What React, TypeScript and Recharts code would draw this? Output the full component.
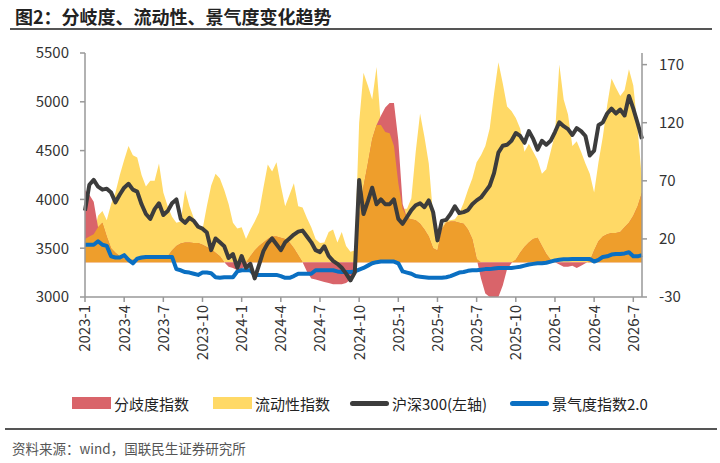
import React from 'react';
import {
  ComposedChart,
  Area,
  Line,
  XAxis,
  YAxis,
} from 'recharts';

// ten-day points from 2023-01-01 to 2026-07-21
const dates: string[] = [];
for (let y = 2023; y <= 2026; y++) {
  for (let m = 1; m <= 12; m++) {
    for (const d of [1, 11, 21]) {
      if (dates.length < 129) dates.push(`${y}-${String(m).padStart(2, '0')}-${String(d).padStart(2, '0')}`);
    }
  }
}

const xTicks = [
  '2023-01-01', '2023-04-01', '2023-07-01', '2023-10-01',
  '2024-01-01', '2024-04-01', '2024-07-01', '2024-10-01',
  '2025-01-01', '2025-04-01', '2025-07-01', '2025-10-01',
  '2026-01-01', '2026-04-01', '2026-07-01',
];
const leftTicks = [3000, 3500, 4000, 4500, 5000, 5500];
const rightTicks = [-30, 20, 70, 120, 170];

// 沪深300 (left axis)
const hs300 = [
  3885, 4150, 4200, 4130, 4100, 4110, 4070, 3970, 4050, 4120,
  4160, 4100, 4080, 3950, 3850, 3800, 3900, 3960, 3840, 3880,
  3960, 4000, 3800, 3760, 3810, 3780, 3720, 3700, 3660, 3480,
  3600, 3560, 3520, 3400, 3440, 3300, 3420, 3300, 3340, 3190,
  3330, 3470, 3550, 3600, 3540, 3480, 3560, 3600, 3640, 3670,
  3680, 3620, 3560, 3480, 3460, 3520, 3420, 3370, 3340, 3300,
  3240, 3170, 3250, 4200, 3850, 3980, 4120, 3950, 4000, 3950,
  3950, 4000, 3800, 3750, 3820, 3890, 3940, 3960, 3920, 3990,
  3870, 3580, 3780, 3790, 3850, 3930, 3860, 3870, 3890, 3950,
  3990, 4020, 4080, 4140, 4270, 4480, 4550, 4560, 4600, 4680,
  4650, 4580, 4700, 4620, 4510, 4600, 4560, 4600, 4690, 4790,
  4750, 4720, 4660, 4730, 4700, 4650, 4450, 4500, 4760, 4790,
  4880, 4930, 4880, 4920, 4860, 5060, 4930, 4780, 4620,
];

// 景气度指数2.0 (right axis)
const jingqi = [
  15, 15, 15, 18, 15, 14, 5, 4, 4, 6,
  2, -1, 3, 4, 4.5, 4.5, 4.5, 4.5, 4.5, 4.5,
  4.5, -6, -7, -8.5, -9, -10, -11, -9, -9, -9.5,
  -13, -13.5, -13, -13, -13, -8, -7, -7, -7, -11,
  -11, -11, -11, -11, -11, -12, -13.5, -13.5, -12, -10,
  -10, -10, -10, -7, -7, -7, -7, -7, -8, -8.5,
  -8.5, -8.5, -8, -6.5, -5, -3, -1, 0, 0.5, 0.5,
  0.5, 0.5, -1, -8, -9, -10, -12, -12.5, -13, -13.5,
  -13.5, -13.5, -13.5, -13, -12, -10.5, -9, -8.5, -7.5, -7,
  -7, -6.5, -6, -6, -5.5, -5, -5, -5, -5, -4.5,
  -4, -3, -2, -1.5, -1, -1, -0.5, 0.5, 1.5, 2,
  2.5, 2.5, 2.7, 2.7, 2.7, 2.7, 2.7, 0.5, 2, 4.5,
  5, 6.5, 7, 7, 7.5, 8.5, 5, 5, 6,
];

// 分歧度指数 (right axis)
const fenqi = [
  62, 58, 52, 30, 34, 22, 12, 8, 5, 3,
  2, 2, 3, 3, 4, 4, 4, 4, 4, 5,
  10, 14, 16, 17, 17, 16.5, 16.5, 15, 13, 11,
  8, 5, 0, -4, -5, -7, -6, -3, 5, 10,
  14, 17, 20, 22, 22, 21, 20, 17, 12, 6,
  0, -8, -14, -15, -16, -17, -18, -19, -19, -19,
  -18, -15, -10, 40, 65, 85, 106, 118, 126, 133,
  137, 137, 105, 50, 38, 37, 36, 33, 28, 22,
  12, 10, 28, 34, 35, 35, 34, 33, 28, 20,
  3, -14, -27, -30, -30, -30, -20, -6, -1, 2,
  8, 13, 17, 20, 21, 14, 7, 2, 0, -2,
  -4, -4, -3, -5, -3, -1, 1, 10, 18, 22,
  24, 25, 25, 26, 30, 34, 40, 48, 60,
];

// 流动性指数 (right axis)
const liudong = [
  20, 22, 24, 40, 44, 36, 50, 60, 75, 88,
  100, 92, 90, 75, 65, 70, 70, 85, 60, 48,
  39, 34, 35, 62, 48, 38, 31, 28, 48, 66,
  76, 72, 62, 50, 34, 29, 30, 20, 28, 35,
  43, 64, 84, 78, 86, 66, 48, 58, 68, 48,
  47, 38, 30, 20, 16.5, 17, 26, 28, 17, 26,
  14, 9, 10, 120, 163, 152, 140, 168, 118, 112,
  111, 100, 68, 46, 46, 55, 95, 128, 108, 85,
  40, 20, 30, 36, 36, 37, 42, 51, 62, 72,
  86, 92, 100, 115, 145, 172, 154, 134, 130, 124,
  115, 95, 102, 95, 88, 76, 80, 95, 110, 170,
  140, 127, 100, 104, 95, 85, 76, 60, 86, 108,
  135, 158, 150, 143, 148, 166, 152, 115, 70,
];

const data = dates.map((date, i) => ({
  date,
  hs300: hs300[i],
  jingqi: jingqi[i],
  fenqi: fenqi[i],
  liudong: liudong[i],
  // part where the two areas overlap, shown orange
  overlap: fenqi[i] > 0 ? Math.min(fenqi[i], liudong[i]) : 0,
}));

const FONT = '"Noto Sans CJK SC", "Noto Sans", sans-serif';

const DateTick = (props: any) => {
  const { x, y, payload } = props;
  const [yy, mm] = String(payload.value).split('-');
  return (
    <g transform={`translate(${x},${y})`}>
      <text
        transform="rotate(-90)"
        textAnchor="end"
        dy="0.36em"
        fontSize={15}
        fill="#333"
        fontFamily={FONT}
      >
        {`${yy}-${Number(mm)}`}
      </text>
    </g>
  );
};

const legendItems = [
  { label: '分歧度指数', color: '#D9646A', kind: 'box', left: 72 },
  { label: '流动性指数', color: '#FFD966', kind: 'box', left: 213 },
  { label: '沪深300(左轴)', color: '#3C3C3C', kind: 'line', left: 350 },
  { label: '景气度指数2.0', color: '#0A6FC2', kind: 'line', left: 510 },
];

export default function App() {
  return (
    <div
      style={{
        position: 'absolute',
        left: 0,
        top: 0,
        width: 720,
        height: 463,
        background: '#fff',
        fontFamily: FONT,
        overflow: 'hidden',
      }}
    >
      <div style={{ position: 'absolute', left: 15, top: 3, fontSize: 18, fontWeight: 700, color: '#222' }}>
        图2：分岐度、流动性、景气度变化趋势
      </div>
      <div style={{ position: 'absolute', left: 10, top: 28, width: 702, height: 2, background: '#555' }} />

      <div style={{ position: 'absolute', left: 0, top: 0 }}>
        <ComposedChart
          width={720}
          height={360}
          data={data}
          margin={{ top: 53, right: 18, left: 25, bottom: 0 }}
        >
          <XAxis
            dataKey="date"
            ticks={xTicks}
            interval={0}
            tick={<DateTick />}
            tickSize={5}
            tickMargin={3}
            height={63}
            axisLine={{ stroke: '#999', strokeWidth: 1.5 }}
            tickLine={{ stroke: '#999', strokeWidth: 1.5 }}
          />
          <YAxis
            yAxisId="left"
            domain={[3000, 5500]}
            ticks={leftTicks}
            allowDataOverflow
            width={60}
            tickSize={5}
            tickMargin={11}
            tick={{ fontSize: 15, fill: '#333', fontFamily: FONT }}
            axisLine={{ stroke: '#999', strokeWidth: 1.5 }}
            tickLine={{ stroke: '#999', strokeWidth: 1.5 }}
          />
          <YAxis
            yAxisId="right"
            orientation="right"
            domain={[-30, 180]}
            ticks={rightTicks}
            allowDataOverflow
            width={60}
            tickSize={5}
            tickMargin={12}
            tick={{ fontSize: 15, fill: '#333', fontFamily: FONT, textAnchor: 'start' }}
            axisLine={{ stroke: '#999', strokeWidth: 1.5 }}
            tickLine={{ stroke: '#999', strokeWidth: 1.5 }}
          />
          <Area
            yAxisId="right"
            dataKey="liudong"
            type="linear"
            stroke="none"
            fill="#FFD966"
            fillOpacity={1}
            baseValue={0}
            isAnimationActive={false}
          />
          <Area
            yAxisId="right"
            dataKey="fenqi"
            type="linear"
            stroke="none"
            fill="#D9646A"
            fillOpacity={1}
            baseValue={0}
            isAnimationActive={false}
          />
          <Area
            yAxisId="right"
            dataKey="overlap"
            type="linear"
            stroke="none"
            fill="#EE9E2C"
            fillOpacity={1}
            baseValue={0}
            isAnimationActive={false}
          />
          <Line
            yAxisId="right"
            dataKey="jingqi"
            type="linear"
            stroke="#0A6FC2"
            strokeWidth={4}
            dot={false}
            strokeLinejoin="round"
            isAnimationActive={false}
          />
          <Line
            yAxisId="left"
            dataKey="hs300"
            type="linear"
            stroke="#3C3C3C"
            strokeWidth={4}
            dot={false}
            strokeLinejoin="round"
            isAnimationActive={false}
          />
        </ComposedChart>
      </div>

      {legendItems.map((it) => (
        <div
          key={it.label}
          style={{
            position: 'absolute',
            left: it.left,
            top: 393,
            height: 20,
            display: 'flex',
            alignItems: 'center',
            fontSize: 15,
            color: '#222',
            whiteSpace: 'nowrap',
          }}
        >
          <span
            style={{
              display: 'inline-block',
              width: 39,
              height: it.kind === 'box' ? 12 : 5,
              borderRadius: it.kind === 'box' ? 0 : 3,
              background: it.color,
              marginRight: 3,
            }}
          />
          {it.label}
        </div>
      ))}

      <div style={{ position: 'absolute', left: 5, top: 428, width: 712, height: 2, background: '#555' }} />
      <div style={{ position: 'absolute', left: 12, top: 438, fontSize: 13.5, color: '#555' }}>
        资料来源：wind，国联民生证券研究所
      </div>
    </div>
  );
}
